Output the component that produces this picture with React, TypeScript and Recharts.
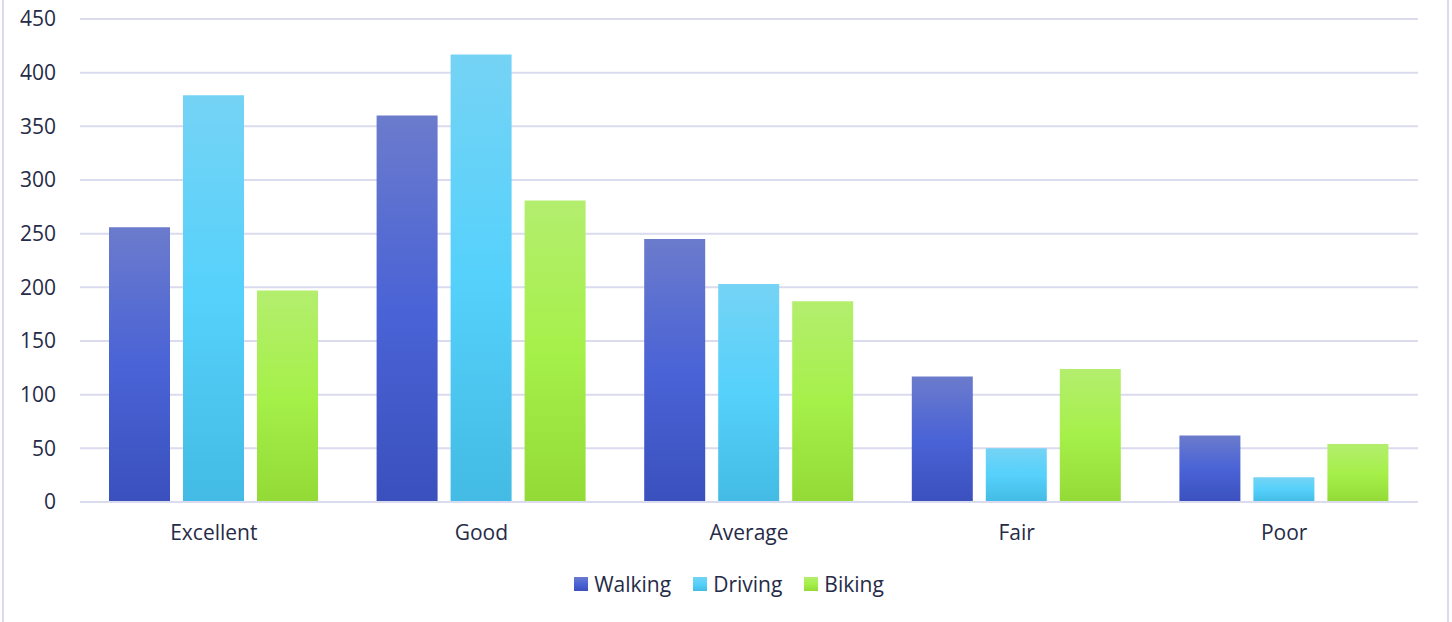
import { BarChart, Bar, XAxis, YAxis, CartesianGrid, Legend } from 'recharts';

const categories = ['Excellent', 'Good', 'Average', 'Fair', 'Poor'];
const walking = [256, 360, 245, 117, 62];
const driving = [379, 417, 203, 50, 23];
const biking = [197, 281, 187, 124, 54];
const yTicks = [0, 50, 100, 150, 200, 250, 300, 350, 400, 450];

const seriesInfo = [
  { key: 'walking', name: 'Walking', stops: ['#6b7bcc', '#4a63d6', '#3a50bd'] },
  { key: 'driving', name: 'Driving', stops: ['#75d3f5', '#55d1fb', '#43bbe4'] },
  { key: 'biking', name: 'Biking', stops: ['#b3ee6e', '#a6f04a', '#93da36'] },
];

const data = categories.map((c, i) => ({
  category: c,
  walking: walking[i],
  driving: driving[i],
  biking: biking[i],
}));

const textColor = '#262b47';
const gridColor = '#dadbee';
const font = '"Open Sans", sans-serif';

function LegendContent() {
  return (
    <div style={{ height: 40, display: 'flex', justifyContent: 'center', alignItems: 'center', gap: 22, paddingLeft: 6 }}>
      {seriesInfo.map((s) => (
        <div key={s.key} style={{ display: 'flex', alignItems: 'center' }}>
          <span
            style={{
              width: 14,
              height: 14,
              marginRight: 6,
              background: `linear-gradient(${s.stops[0]}, ${s.stops[1]}, ${s.stops[2]})`,
            }}
          />
          <span style={{ fontFamily: font, fontSize: 21, color: textColor }}>{s.name}</span>
        </div>
      ))}
    </div>
  );
}

export default function App() {
  return (
    <div style={{ position: 'absolute', left: 0, top: 0, width: 1452, height: 622, background: '#fff' }}>
      <div
        style={{
          position: 'absolute',
          left: 2,
          top: 0,
          width: 1443,
          height: 622,
          borderLeft: `2px solid ${gridColor}`,
          borderRight: `2px solid ${gridColor}`,
        }}
      />
      <BarChart
        width={1452}
        height={622}
        data={data}
        margin={{ top: 19, right: 34, bottom: 18, left: 0 }}
        barSize={61}
        barGap={13}
      >
        <defs>
          {seriesInfo.map((s) => (
            <linearGradient key={s.key} id={`grad-${s.key}`} x1="0" y1="0" x2="0" y2="1">
              <stop offset="0%" stopColor={s.stops[0]} />
              <stop offset="50%" stopColor={s.stops[1]} />
              <stop offset="100%" stopColor={s.stops[2]} />
            </linearGradient>
          ))}
        </defs>
        <CartesianGrid vertical={false} stroke={gridColor} strokeWidth={2} />
        <XAxis
          dataKey="category"
          height={62}
          tickLine={false}
          tickSize={0}
          tickMargin={23}
          axisLine={{ stroke: gridColor, strokeWidth: 2 }}
          tick={{ fill: textColor, fontSize: 21, fontFamily: font }}
        />
        <YAxis
          width={80}
          domain={[0, 450]}
          ticks={yTicks}
          interval={0}
          axisLine={false}
          tickLine={false}
          tickSize={0}
          tickMargin={24}
          tick={{ fill: textColor, fontSize: 21, fontFamily: font }}
        />
        <Legend
          verticalAlign="bottom"
          content={<LegendContent />}
          wrapperStyle={{ left: 0, width: 1452 }}
        />
        {seriesInfo.map((s) => (
          <Bar
            key={s.key}
            dataKey={s.key}
            name={s.name}
            fill={`url(#grad-${s.key})`}
            isAnimationActive={false}
          />
        ))}
      </BarChart>
    </div>
  );
}
